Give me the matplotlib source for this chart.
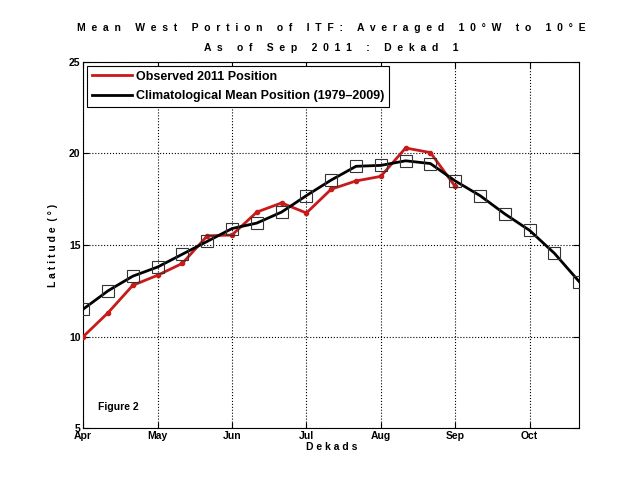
import matplotlib
matplotlib.use('Agg')
import matplotlib.pyplot as plt
import numpy as np

month_labels = ['Apr', 'May', 'Jun', 'Jul', 'Aug', 'Sep', 'Oct']

# latitude per dekad, starting Apr dekad 1
observed_2011 = [10.0, 11.3, 12.8, 13.35, 14.0, 15.5, 15.55, 16.8, 17.3, 16.75,
                 18.05, 18.5, 18.75, 20.3, 20.05, 18.2]
climatology = [11.5, 12.5, 13.3, 13.8, 14.5, 15.2, 15.9, 16.2, 16.8, 17.7,
               18.55, 19.3, 19.35, 19.6, 19.45, 18.5, 17.7, 16.7, 15.8, 14.55, 13.0]


def spaced(s, gap='  ', word='     '):
    return word.join(gap.join(w) for w in s.split(' '))


plt.rcParams['font.family'] = ['Liberation Sans', 'DejaVu Sans']
plt.rcParams['font.weight'] = 'bold'

fig = plt.figure(figsize=(6.4, 4.8), dpi=100)
ax = fig.add_axes([0.13, 0.108, 0.775, 0.763])

x_obs = np.arange(len(observed_2011))
x_clim = np.arange(len(climatology))

ax.plot(x_obs, observed_2011, color='#c81a1a', lw=2, marker='o', ms=3,
        label='Observed 2011 Position', zorder=3)
ax.plot(x_clim, climatology, color='black', lw=2,
        label='Climatological Mean Position (1979\u20132009)', zorder=4)
ax.plot(x_clim, climatology, ls='none', marker='s', ms=8.5, mfc='none',
        mec='#333333', mew=0.8, zorder=5)

ax.set_xlim(0, 20)
ax.set_ylim(5, 25)
ax.set_xticks(np.arange(0, 19, 3))
ax.set_xticklabels(month_labels)
ax.set_yticks([5, 10, 15, 20, 25])
ax.tick_params(labelsize=7.5, direction='in', top=True, right=True, length=4, pad=2)
for lab in ax.get_xticklabels() + ax.get_yticklabels():
    lab.set_fontweight('bold')
ax.grid(True, ls=':', color='black', lw=0.8)

ax.set_title(spaced('Mean West Portion of ITF: Averaged 10\u00b0W to 10\u00b0E') + '\n'
             + spaced('As of Sep 2011 : Dekad 1'),
             fontsize=7.5, fontweight='bold', linespacing=2.2, pad=8)
ax.set_xlabel(spaced('Dekads', ' ', '  '), fontsize=7.5, fontweight='bold', labelpad=1)
ax.set_ylabel(spaced('Latitude (\u00b0)', ' ', '  '), fontsize=7.5, fontweight='bold',
              labelpad=8)

ax.text(0.6, 6.0, 'Figure 2', fontsize=7.5, fontweight='bold')

leg = ax.legend(loc='upper left', fontsize=9, frameon=True, fancybox=False,
                edgecolor='black', framealpha=1, borderaxespad=0.3,
                handlelength=3.2, handletextpad=0.3, labelspacing=0.6,
                borderpad=0.4)
leg.get_frame().set_linewidth(0.8)
leg.legend_handles[0].set_marker('')
for t in leg.get_texts():
    t.set_fontweight('bold')

fig.savefig('out.png', dpi=100)
